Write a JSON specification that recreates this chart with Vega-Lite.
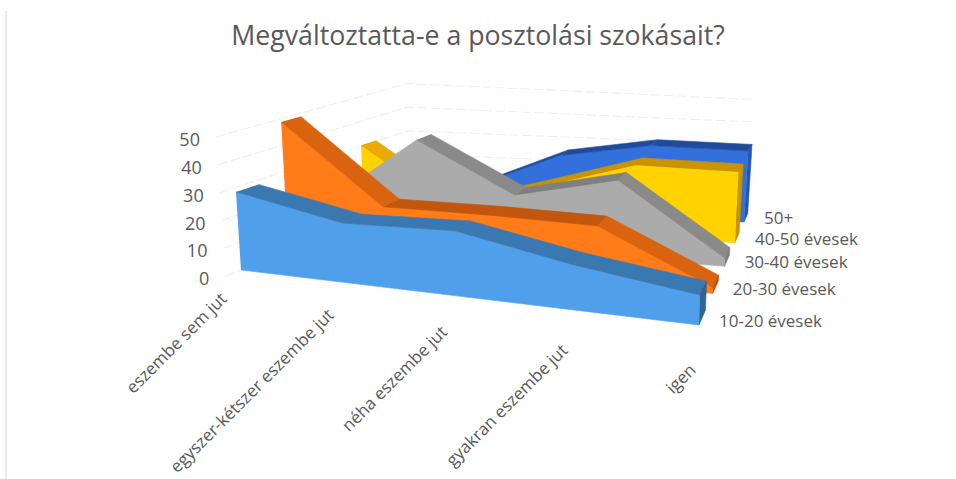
{
"$schema":"https://vega.github.io/schema/vega-lite/v6.json",
"width":956,"height":479,"padding":0,"autosize":"none",
"background":"white",
"view":{"stroke":null},
"title":{"text":"Megváltoztatta-e a posztolási szokásait?","font":"Open Sans","fontSize":26.7,"fontWeight":"normal","color":"#595959","anchor":"middle","dy":55},
"layer":[
{"data":{"values":[{"frame":"left"}]},
"mark":{"type":"rule","stroke":"#E9E9E9","strokeWidth":2},
"encoding":{
"x":{"datum":6,"type":"quantitative","scale":{"domain":[0,956],"nice":false,"zero":false},"axis":null},
"y":{"datum":11,"type":"quantitative","scale":{"domain":[479,0],"nice":false,"zero":false},"axis":null},
"y2":{"datum":479}
}},
{"data":{"values":[{"v":0},{"v":10},{"v":20},{"v":30},{"v":40},{"v":50}]},
"transform":[
{"calculate":"[{o:0,cc:0,ss:-0.3,hh:datum.v},{o:1,cc:0,ss:4.55,hh:datum.v},{o:2,cc:4,ss:4.55,hh:datum.v}]","as":"parts"},
{"flatten":["parts"]},
{"calculate":"datum.parts.o","as":"o"},
{"calculate":"datum.parts.cc","as":"cc"},{"calculate":"datum.parts.ss","as":"ss"},{"calculate":"datum.parts.hh","as":"hh"},
{"calculate":"(datum.cc/4)/(1+0.128*(1-datum.cc/4))","as":"u"},
{"calculate":"(datum.ss/4)*1.326/(1+0.326*datum.ss/4)","as":"t"},
{"calculate":"241*(1-datum.u)*(1-datum.t)+699*datum.u*(1-datum.t)+395*(1-datum.u)*datum.t+744*datum.u*datum.t","as":"bx"},
{"calculate":"270*(1-datum.u)*(1-datum.t)+325*datum.u*(1-datum.t)+208*(1-datum.u)*datum.t+222*datum.u*datum.t","as":"by"},
{"calculate":"(2.75+0.35*datum.u-datum.t*(0.35+0.43*datum.u))*datum.hh","as":"ph"},
{"calculate":"datum.bx+(-0.064+0.094*datum.u+0.03*datum.t)*datum.ph","as":"px"},
{"calculate":"datum.by-datum.ph","as":"py"}
],
"mark":{"type":"line","stroke":"#EEEEEE","strokeWidth":1,"strokeDash":[10,3],"interpolate":"linear"},
"encoding":{
"x":{"field":"px","type":"quantitative","scale":{"domain":[0,956],"nice":false,"zero":false},"axis":null},
"y":{"field":"py","type":"quantitative","scale":{"domain":[479,0],"nice":false,"zero":false},"axis":null},
"detail":{"field":"v"},
"order":{"field":"o","type":"quantitative"}
}},
{"data":{"values":[
{"series":"50+","s":4,"category":"eszembe sem jut","c":0,"v":15},
{"series":"50+","s":4,"category":"egyszer-kétszer eszembe jut","c":1,"v":10.5},
{"series":"50+","s":4,"category":"néha eszembe jut","c":2,"v":25},
{"series":"50+","s":4,"category":"gyakran eszembe jut","c":3,"v":31},
{"series":"50+","s":4,"category":"igen","c":4,"v":30.6},
{"series":"40-50 évesek","s":3,"category":"eszembe sem jut","c":0,"v":30.4},
{"series":"40-50 évesek","s":3,"category":"egyszer-kétszer eszembe jut","c":1,"v":8},
{"series":"40-50 évesek","s":3,"category":"néha eszembe jut","c":2,"v":17.8},
{"series":"40-50 évesek","s":3,"category":"gyakran eszembe jut","c":3,"v":29},
{"series":"40-50 évesek","s":3,"category":"igen","c":4,"v":28.7},
{"series":"30-40 évesek","s":2,"category":"eszembe sem jut","c":0,"v":13},
{"series":"30-40 évesek","s":2,"category":"egyszer-kétszer eszembe jut","c":1,"v":39.6},
{"series":"30-40 évesek","s":2,"category":"néha eszembe jut","c":2,"v":21},
{"series":"30-40 évesek","s":2,"category":"gyakran eszembe jut","c":3,"v":29.5},
{"series":"30-40 évesek","s":2,"category":"igen","c":4,"v":3},
{"series":"20-30 évesek","s":1,"category":"eszembe sem jut","c":0,"v":48.8},
{"series":"20-30 évesek","s":1,"category":"egyszer-kétszer eszembe jut","c":1,"v":20},
{"series":"20-30 évesek","s":1,"category":"néha eszembe jut","c":2,"v":20.4},
{"series":"20-30 évesek","s":1,"category":"gyakran eszembe jut","c":3,"v":20},
{"series":"20-30 évesek","s":1,"category":"igen","c":4,"v":2},
{"series":"10-20 évesek","s":0,"category":"eszembe sem jut","c":0,"v":28.4},
{"series":"10-20 évesek","s":0,"category":"egyszer-kétszer eszembe jut","c":1,"v":21},
{"series":"10-20 évesek","s":0,"category":"néha eszembe jut","c":2,"v":22.3},
{"series":"10-20 évesek","s":0,"category":"gyakran eszembe jut","c":3,"v":15},
{"series":"10-20 évesek","s":0,"category":"igen","c":4,"v":9.7}
]},
"transform":[
{"window":[{"op":"lead","field":"v","as":"next"}],"groupby":["s"],"sort":[{"field":"c","order":"ascending"}]},
{"calculate":"[{p:'f'+datum.s,k:datum.s+'f',o:datum.c,cc:datum.c,ss:datum.s,hh:datum.v,keep:true},{p:'f'+datum.s,k:datum.s+'f',o:9-datum.c,cc:datum.c,ss:datum.s,hh:0,keep:true},{p:'r'+datum.s+'_'+datum.c,k:datum.s+(datum.next<datum.v-8?'a':'b'),o:0,cc:datum.c,ss:datum.s,hh:datum.v,keep:datum.next!=null&&!(datum.next>datum.v+20)},{p:'r'+datum.s+'_'+datum.c,k:datum.s+(datum.next<datum.v-8?'a':'b'),o:1,cc:datum.c+1,ss:datum.s,hh:datum.next,keep:datum.next!=null&&!(datum.next>datum.v+20)},{p:'r'+datum.s+'_'+datum.c,k:datum.s+(datum.next<datum.v-8?'a':'b'),o:2,cc:datum.c+1,ss:datum.s+0.45,hh:datum.next,keep:datum.next!=null&&!(datum.next>datum.v+20)},{p:'r'+datum.s+'_'+datum.c,k:datum.s+(datum.next<datum.v-8?'a':'b'),o:3,cc:datum.c,ss:datum.s+0.45,hh:datum.v,keep:datum.next!=null&&!(datum.next>datum.v+20)},{p:'c'+datum.s,k:datum.s+'c',o:0,cc:datum.c,ss:datum.s,hh:datum.v,keep:datum.c==4},{p:'c'+datum.s,k:datum.s+'c',o:1,cc:datum.c,ss:datum.s+0.45,hh:datum.v,keep:datum.c==4},{p:'c'+datum.s,k:datum.s+'c',o:2,cc:datum.c,ss:datum.s+0.45,hh:0,keep:datum.c==4},{p:'c'+datum.s,k:datum.s+'c',o:3,cc:datum.c,ss:datum.s,hh:0,keep:datum.c==4}]","as":"parts"},
{"flatten":["parts"]},
{"filter":"datum.parts.keep"},
{"calculate":"datum.parts.p","as":"p"},{"calculate":"datum.parts.k","as":"k"},{"calculate":"datum.parts.o","as":"o"},
{"calculate":"datum.parts.cc","as":"cc"},{"calculate":"datum.parts.ss","as":"ss"},{"calculate":"datum.parts.hh","as":"hh"},
{"calculate":"(datum.cc/4)/(1+0.128*(1-datum.cc/4))","as":"u"},
{"calculate":"(datum.ss/4)*1.326/(1+0.326*datum.ss/4)","as":"t"},
{"calculate":"241*(1-datum.u)*(1-datum.t)+699*datum.u*(1-datum.t)+395*(1-datum.u)*datum.t+744*datum.u*datum.t","as":"bx"},
{"calculate":"270*(1-datum.u)*(1-datum.t)+325*datum.u*(1-datum.t)+208*(1-datum.u)*datum.t+222*datum.u*datum.t","as":"by"},
{"calculate":"(2.75+0.35*datum.u-datum.t*(0.35+0.43*datum.u))*datum.hh","as":"ph"},
{"calculate":"datum.bx+(-0.064+0.094*datum.u+0.03*datum.t)*datum.ph","as":"px"},
{"calculate":"datum.by-datum.ph","as":"py"}
],
"mark":{"type":"line","strokeWidth":0.6,"interpolate":"linear"},
"encoding":{
"x":{"field":"px","type":"quantitative","scale":{"domain":[0,956],"nice":false,"zero":false},"axis":null},
"y":{"field":"py","type":"quantitative","scale":{"domain":[479,0],"nice":false,"zero":false},"axis":null},
"detail":{"field":"p"},
"order":{"field":"o","type":"quantitative"},
"fill":{"field":"k","type":"nominal","legend":null,"scale":{"domain":["0f","0a","0b","0c","1f","1a","1b","1c","2f","2a","2b","2c","3f","3a","3b","3c","4f","4a","4b","4c"],"range":["#4F9FEA","#3A78B2","#3A78B2","#2F6594","#FF7C19","#D9630F","#C2560C","#B84E0A","#ABABAB","#8A8A8A","#7F7F7F","#808080","#FFD200","#EBAA00","#C99400","#C99400","#3370DC","#1E4B9C","#1E4B9C","#2456B0"]}},
"stroke":{"field":"k","type":"nominal","legend":null,"scale":{"domain":["0f","0a","0b","0c","1f","1a","1b","1c","2f","2a","2b","2c","3f","3a","3b","3c","4f","4a","4b","4c"],"range":["#4F9FEA","#3A78B2","#3A78B2","#2F6594","#FF7C19","#D9630F","#C2560C","#B84E0A","#ABABAB","#8A8A8A","#7F7F7F","#808080","#FFD200","#EBAA00","#C99400","#C99400","#3370DC","#1E4B9C","#1E4B9C","#2456B0"]}}
}},
{"data":{"values":[{"v":0},{"v":10},{"v":20},{"v":30},{"v":40},{"v":50}]},
"transform":[
{"calculate":"(-0.3/4)*1.326/(1+0.326*-0.3/4)","as":"t"},
{"calculate":"241*(1-datum.t)+395*datum.t","as":"bx"},
{"calculate":"270*(1-datum.t)+208*datum.t","as":"by"},
{"calculate":"(2.75-datum.t*0.35)*datum.v","as":"ph"},
{"calculate":"datum.bx+(-0.064+0.03*datum.t)*datum.ph","as":"px"},
{"calculate":"datum.by-datum.ph","as":"py"}
],
"mark":{"type":"text","font":"Open Sans","fontSize":18,"color":"#595959","align":"right","baseline":"middle","dx":-16,"dy":4},
"encoding":{
"x":{"field":"px","type":"quantitative","scale":{"domain":[0,956],"nice":false,"zero":false},"axis":null},
"y":{"field":"py","type":"quantitative","scale":{"domain":[479,0],"nice":false,"zero":false},"axis":null},
"text":{"field":"v","type":"nominal"}
}},
{"data":{"values":[
{"category":"eszembe sem jut","c":0},
{"category":"egyszer-kétszer eszembe jut","c":1},
{"category":"néha eszembe jut","c":2},
{"category":"gyakran eszembe jut","c":3},
{"category":"igen","c":4}]},
"transform":[
{"calculate":"(datum.c/4)/(1+0.128*(1-datum.c/4))","as":"u"},
{"calculate":"(-0.3/4)*1.326/(1+0.326*-0.3/4)","as":"t"},
{"calculate":"241*(1-datum.u)*(1-datum.t)+699*datum.u*(1-datum.t)+395*(1-datum.u)*datum.t+744*datum.u*datum.t-1","as":"px"},
{"calculate":"270*(1-datum.u)*(1-datum.t)+325*datum.u*(1-datum.t)+208*(1-datum.u)*datum.t+222*datum.u*datum.t+20+12*datum.u","as":"py"}
],
"mark":{"type":"text","font":"Open Sans","fontSize":17,"color":"#595959","align":"right","baseline":"middle","angle":315},
"encoding":{
"x":{"field":"px","type":"quantitative","scale":{"domain":[0,956],"nice":false,"zero":false},"axis":null},
"y":{"field":"py","type":"quantitative","scale":{"domain":[479,0],"nice":false,"zero":false},"axis":null},
"text":{"field":"category","type":"nominal"}
}},
{"data":{"values":[
{"series":"10-20 évesek","s":0},
{"series":"20-30 évesek","s":1},
{"series":"30-40 évesek","s":2},
{"series":"40-50 évesek","s":3},
{"series":"50+","s":4}]},
"transform":[
{"calculate":"(datum.s/4)*1.326/(1+0.326*datum.s/4)","as":"t"},
{"calculate":"699*(1-datum.t)+744*datum.t","as":"px"},
{"calculate":"325*(1-datum.t)+222*datum.t","as":"py"}
],
"mark":{"type":"text","font":"Open Sans","fontSize":17,"color":"#595959","align":"left","baseline":"middle","dx":20,"dy":-3},
"encoding":{
"x":{"field":"px","type":"quantitative","scale":{"domain":[0,956],"nice":false,"zero":false},"axis":null},
"y":{"field":"py","type":"quantitative","scale":{"domain":[479,0],"nice":false,"zero":false},"axis":null},
"text":{"field":"series","type":"nominal"}
}}
]
}
